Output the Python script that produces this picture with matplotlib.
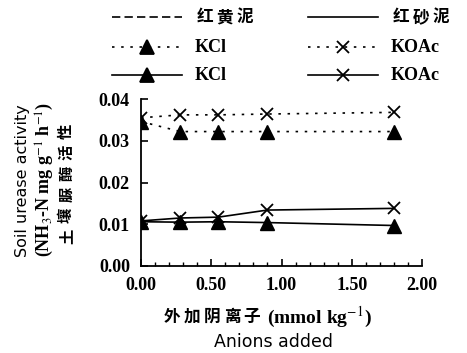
import matplotlib.pyplot as plt
from matplotlib.lines import Line2D
from matplotlib.ticker import MultipleLocator, FormatStrFormatter

plt.rcParams['font.family'] = ['Liberation Serif', 'Noto Sans CJK SC']
plt.rcParams['mathtext.fontset'] = 'stix'

# 外加阴离子 (mmol kg-1)
anions = [0.0, 0.28, 0.55, 0.9, 1.8]
# 红黄泥 (dotted)
hhn_kcl = [0.0346, 0.0322, 0.0322, 0.0322, 0.0322]
hhn_koac = [0.0355, 0.0362, 0.0362, 0.0364, 0.0368]
# 红砂泥 (solid)
hsn_kcl = [0.0106, 0.0105, 0.0106, 0.0104, 0.0097]
hsn_koac = [0.0108, 0.0115, 0.0117, 0.0134, 0.0138]

W, H = 467, 353
fig = plt.figure(figsize=(W / 100, H / 100), dpi=100)
ax = fig.add_axes([141 / W, 1 - 266 / H, 281 / W, 167 / H])

dot = (0, (1.5, 4))
ax.plot(anions, hhn_koac, color='black', lw=1.2, ls=dot, marker='x', ms=9, mew=1.3)
ax.plot(anions, hhn_kcl, color='black', lw=1.2, ls=dot, marker='^', ms=10)
ax.plot(anions, hsn_koac, color='black', lw=1.2, marker='x', ms=9, mew=1.3)
ax.plot(anions, hsn_kcl, color='black', lw=1.2, marker='^', ms=10)

ax.set_xlim(0, 2.0)
ax.set_ylim(0, 0.04)
ax.spines['top'].set_visible(False)
ax.spines['right'].set_visible(False)
ax.spines['left'].set_linewidth(1.3)
ax.spines['bottom'].set_linewidth(1.3)
ax.xaxis.set_major_locator(MultipleLocator(0.5))
ax.xaxis.set_minor_locator(MultipleLocator(0.1))
ax.yaxis.set_major_locator(MultipleLocator(0.01))
ax.xaxis.set_major_formatter(FormatStrFormatter('%.2f'))
ax.yaxis.set_major_formatter(FormatStrFormatter('%.2f'))
ax.tick_params(axis='both', which='major', direction='in', length=5, width=1.2,
               labelsize=13, pad=8)
ax.tick_params(axis='x', which='minor', direction='in', length=3, width=1.0)
for lab in ax.get_xticklabels() + ax.get_yticklabels():
    lab.set_fontweight('bold')


# 中文逐字排列（原图字距较宽）
def spaced_cjk(x, y, text, step, size, vertical=False):
    for i, ch in enumerate(text):
        if vertical:
            cx, cy, rot = x, y - i * step, 90
        else:
            cx, cy, rot = x + i * step, y, 0
        fig.text(cx / W, 1 - cy / H, ch, rotation=rot, ha='center', va='center',
                 fontsize=size, family='Noto Sans CJK SC', fontweight='bold')


# y 轴标题
fig.text(23 / W, 1 - 181 / H, 'Soil urease activity', rotation=90, ha='center',
         va='center', fontsize=11.5, family='DejaVu Sans')
fig.text(45 / W, 1 - 179 / H, r'(NH$_3$-N mg g$^{-1}$ h$^{-1}$)', rotation=90,
         ha='center', va='center', fontsize=13, fontweight='bold')
spaced_cjk(66, 236, '土壤脲酶活性', 21, 11, vertical=True)

# x 轴标题
spaced_cjk(172, 317, '外加阴离子', 20, 12)
fig.text(267 / W, 1 - 317 / H, r'(mmol kg$^{-1}$)', ha='left', va='center',
         fontsize=14, fontweight='bold')
fig.text(273 / W, 1 - 342 / H, 'Anions added', ha='center', va='center',
         fontsize=12.5, family='DejaVu Sans')


# 图例
def legend_item(x0, x1, y, ls, marker, label):
    yy = 1 - y / H
    line = Line2D([x0 / W, x1 / W], [yy, yy], transform=fig.transFigure,
                  color='black', lw=1.2, ls=ls)
    fig.add_artist(line)
    if marker:
        m = Line2D([(x0 + x1) / 2 / W], [yy], transform=fig.transFigure,
                   color='black', marker=marker, ms=9 if marker == 'x' else 10,
                   mew=1.3, ls='none')
        fig.add_artist(m)
    if label.isascii():
        fig.text((x1 + 13) / W, yy, label, ha='left', va='center', fontsize=13,
                 fontweight='bold')
    else:
        spaced_cjk(x1 + 23, y, label, 20, 12)


legend_item(112, 182, 17, (0, (5, 2.5)), None, '红黄泥')
legend_item(308, 378, 17, '-', None, '红砂泥')
legend_item(112, 182, 47, dot, '^', 'KCl')
legend_item(308, 378, 47, dot, 'x', 'KOAc')
legend_item(112, 182, 75, '-', '^', 'KCl')
legend_item(308, 378, 75, '-', 'x', 'KOAc')

fig.savefig('out.png', dpi=100, facecolor='white')
